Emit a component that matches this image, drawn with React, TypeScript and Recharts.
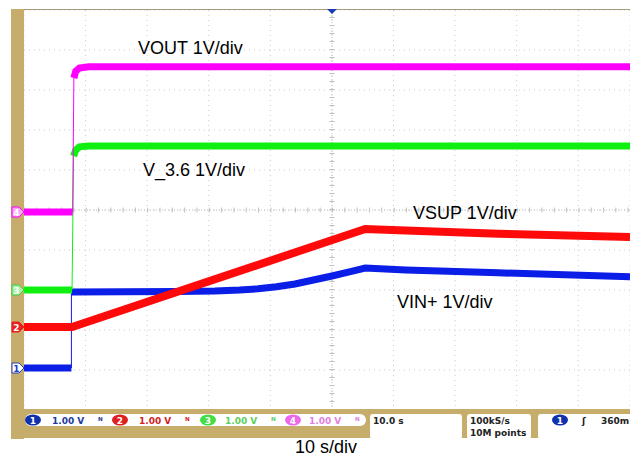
import { LineChart, Line, XAxis, YAxis, CartesianGrid, ReferenceLine } from 'recharts'

// time in seconds (10 s/div), trigger at t = 0
const GRID_T = [-50, -40, -30, -20, -10, 0, 10, 20, 30, 40]
const GRID_DIV = [-5, -4, -3, -2, -1, 0, 1, 2, 3, 4, 5]

// channel ground markers, in divisions from screen centre (1 V/div)
const OFFSET_CH1 = -3.95
const OFFSET_CH2 = -2.925
const OFFSET_CH3 = -2.0
const OFFSET_CH4 = -0.05

// VOUT (ch4)
const VOUT_T = [-50, -42.1, -41.9, -41.6, -41.0, -39.5, 48.4]
const VOUT_V = [0, 0, 3.35, 3.52, 3.6, 3.63, 3.63]
const VOUT_EDGE = 1

// V_3.6 (ch3)
const V36_T = [-50, -42.2, -41.95, -41.6, -41.0, -39.5, 48.4]
const V36_V = [0, 0, 3.35, 3.5, 3.58, 3.6, 3.6]
const V36_EDGE = 1

// VSUP (ch2)
const VSUP_T = [-50, -42.2, 5.4, 12, 27, 48.4]
const VSUP_V = [0, 0, 2.45, 2.41, 2.33, 2.25]

// VIN+ (ch1)
const VIN_T = [-50, -42.3, -42.3, -25, -19, -15, -12, -9, -6, -3, 0, 3, 5.4, 12, 27, 48.4]
const VIN_V = [0, 0, 1.9, 1.91, 1.925, 1.95, 1.98, 2.03, 2.1, 2.2, 2.3, 2.41, 2.5, 2.45, 2.38, 2.28]
const VIN_EDGE = 1

const X_DOMAIN: [number, number] = [-50, 48.4]

function pts(ts: number[], vs: number[], offset: number) {
  return ts.map((t, i) => ({ t, y: vs[i] + offset }))
}

function split(ts: number[], vs: number[], offset: number, edge: number) {
  const all = pts(ts, vs, offset)
  return {
    pre: all.slice(0, edge + 1),
    edge: all.slice(edge, edge + 2),
    post: all.slice(edge + 1),
  }
}

const PINK = '#ff00ff'
const GREEN = '#10f010'
const RED = '#ff0a0a'
const BLUE = '#0a1ee8'
const BROWN = '#c6ad6b'

const vout = split(VOUT_T, VOUT_V, OFFSET_CH4, VOUT_EDGE)
const v36 = split(V36_T, V36_V, OFFSET_CH3, V36_EDGE)
const vin = split(VIN_T, VIN_V, OFFSET_CH1, VIN_EDGE)
const vsup = pts(VSUP_T, VSUP_V, OFFSET_CH2)

const labelStyle: React.CSSProperties = {
  position: 'absolute',
  fontFamily: '"Liberation Sans", Arial, sans-serif',
  fontSize: '18px',
  color: '#000',
  lineHeight: 1,
  whiteSpace: 'nowrap',
}

function Badge({ x, color, text, textColor }: { x: number; color: string; text: string; textColor: string }) {
  return (
    <g>
      <ellipse cx={x} cy={420} rx={8} ry={5.5} fill={color} />
      <text x={x} y={423.5} textAnchor="middle" fontSize={9} fontWeight="bold" fill={textColor} fontFamily="DejaVu Sans">
        {text}
      </text>
    </g>
  )
}

function Marker({ y, fill, stroke, text, textColor }: { y: number; fill: string; stroke: string; text: string; textColor: string }) {
  const p = `12,${y - 5} 19,${y - 5} 24,${y} 19,${y + 5} 12,${y + 5}`
  return (
    <g>
      <polygon points={p} fill={fill} stroke={stroke} strokeWidth={1} />
      <text x={16.5} y={y + 3.5} textAnchor="middle" fontSize={9} fontWeight="bold" fill={textColor} fontFamily="DejaVu Sans">
        {text}
      </text>
    </g>
  )
}

export default function App() {
  const st = { fontFamily: 'DejaVu Sans', fontSize: 9, fontWeight: 'bold' as const }
  return (
    <div style={{ position: 'absolute', left: 0, top: 0, width: 630, height: 457, background: '#fff', overflow: 'hidden' }}>
      <LineChart width={630} height={457} margin={{ top: 10, right: 0, bottom: 47, left: 24 }} style={{ position: 'absolute', left: 0, top: 0 }}>
        <XAxis type="number" dataKey="t" domain={X_DOMAIN} ticks={GRID_T} allowDataOverflow hide />
        <YAxis type="number" domain={[-5, 5]} ticks={GRID_DIV} allowDataOverflow hide />
        <CartesianGrid stroke="#cdcdcd" strokeDasharray="1 4" />
        <ReferenceLine x={0} stroke="#c0c0c0" strokeDasharray="1 2" />
        <ReferenceLine x={0} stroke="#c0c0c0" strokeWidth={5} strokeDasharray="1 7" />
        <ReferenceLine y={0} stroke="#c0c0c0" strokeDasharray="1 2" />
        <ReferenceLine y={0} stroke="#c0c0c0" strokeWidth={5} strokeDasharray="1 11.32" />

        <Line data={vin.pre} dataKey="y" stroke={BLUE} strokeWidth={7} dot={false} isAnimationActive={false} type="linear" />
        <Line data={vin.edge} dataKey="y" stroke={BLUE} strokeWidth={1} dot={false} isAnimationActive={false} type="linear" />
        <Line data={vin.post} dataKey="y" stroke={BLUE} strokeWidth={7} dot={false} isAnimationActive={false} type="linear" />

        <Line data={vsup} dataKey="y" stroke={RED} strokeWidth={8} dot={false} isAnimationActive={false} type="linear" />

        <Line data={v36.pre} dataKey="y" stroke={GREEN} strokeWidth={7} dot={false} isAnimationActive={false} type="linear" />
        <Line data={v36.edge} dataKey="y" stroke={GREEN} strokeWidth={1} dot={false} isAnimationActive={false} type="linear" />
        <Line data={v36.post} dataKey="y" stroke={GREEN} strokeWidth={7} dot={false} isAnimationActive={false} type="linear" />

        <Line data={vout.pre} dataKey="y" stroke={PINK} strokeWidth={7} dot={false} isAnimationActive={false} type="linear" />
        <Line data={vout.edge} dataKey="y" stroke={PINK} strokeWidth={1} dot={false} isAnimationActive={false} type="linear" />
        <Line data={vout.post} dataKey="y" stroke={PINK} strokeWidth={7} dot={false} isAnimationActive={false} type="linear" />
      </LineChart>

      <svg width={630} height={457} style={{ position: 'absolute', left: 0, top: 0, pointerEvents: 'none' }}>
        <line x1={24} y1={9.5} x2={630} y2={9.5} stroke="#a89a78" strokeWidth={1} />
        <polygon points="327,9 337,9 332,14" fill="#1a3ab0" />
        <rect x={11} y={9} width={13} height={430} fill={BROWN} />
        <rect x={11} y={409} width={619} height={29} fill={BROWN} />

        <Marker y={212} fill="#f4a8f4" stroke={PINK} text="4" textColor="#fff" />
        <Marker y={290} fill="#a8f0a8" stroke="#3ad03a" text="3" textColor="#fff" />
        <Marker y={327} fill="#e82020" stroke="#e82020" text="2" textColor="#fff" />
        <Marker y={368} fill="#fff" stroke="#2040c0" text="1" textColor="#2040c0" />

        <rect x={25} y={414} width={341} height={12} rx={6} fill="#fff" />
        <rect x={370} y={414} width={92} height={25} rx={3} fill="#fff" />
        <rect x={467} y={414} width={64} height={25} rx={3} fill="#fff" />
        <rect x={538} y={414} width={100} height={25} rx={3} fill="#fff" />

        <Badge x={33} color="#1030b0" text="1" textColor="#fff" />
        <text x={52} y={423.5} fill="#1c3a9c" {...st}>1.00 V</text>
        <text x={98} y={423.5} fill="#1c3a9c" {...st}>ᴺ</text>
        <Badge x={120} color="#e02020" text="2" textColor="#fff" />
        <text x={139} y={423.5} fill="#d21e1e" {...st}>1.00 V</text>
        <text x={185} y={423.5} fill="#d21e1e" {...st}>ᴺ</text>
        <Badge x={208} color="#44dd44" text="3" textColor="#fff" />
        <text x={225} y={423.5} fill="#5cd05c" {...st}>1.00 V</text>
        <text x={271} y={423.5} fill="#5cd05c" {...st}>ᴺ</text>
        <Badge x={293} color="#ee66ee" text="4" textColor="#fff" />
        <text x={309} y={423.5} fill="#e080e0" {...st}>1.00 V</text>
        <text x={355} y={423.5} fill="#e080e0" {...st}>ᴺ</text>

        <text x={373} y={424} fill="#222" {...st}>10.0 s</text>
        <text x={470} y={424} fill="#222" {...st}>100kS/s</text>
        <text x={470} y={436} fill="#222" {...st}>10M points</text>
        <Badge x={560} color="#1030b0" text="1" textColor="#fff" />
        <text x={582} y={424} fill="#222" {...st}>ʃ</text>
        <text x={601} y={424} fill="#222" {...st}>360m</text>
      </svg>

      <div style={{ ...labelStyle, left: 138, top: 39 }}>VOUT 1V/div</div>
      <div style={{ ...labelStyle, left: 143, top: 161 }}>V_3.6 1V/div</div>
      <div style={{ ...labelStyle, left: 413, top: 204 }}>VSUP 1V/div</div>
      <div style={{ ...labelStyle, left: 397, top: 293 }}>VIN+ 1V/div</div>
      <div style={{ ...labelStyle, left: 295, top: 438 }}>10 s/div</div>
    </div>
  )
}
